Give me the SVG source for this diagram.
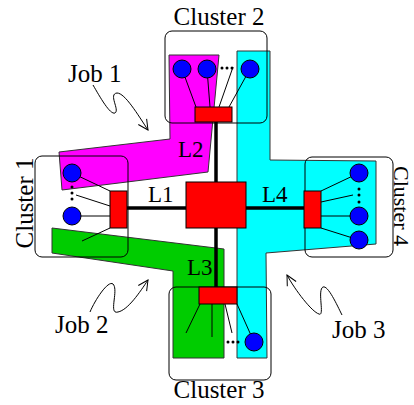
<svg xmlns="http://www.w3.org/2000/svg" width="414" height="405" viewBox="0 0 414 405">
<defs>
<style>
text{font-family:"Liberation Serif","Times New Roman",serif;fill:#000}
.lbl{font-size:25px}
.lk{font-size:23px}
.job{stroke:#333;stroke-width:1}
.clu{fill:none;stroke:#000;stroke-width:1}
.sw{fill:#ff0000;stroke:#000;stroke-width:1}
.host{fill:#0000ff;stroke:#000;stroke-width:1}
.thin{stroke:#000;stroke-width:1;fill:none}
.thick{stroke:#000;stroke-width:3.5;fill:none}
.dot{fill:#000}
.sq{fill:none;stroke:#000;stroke-width:1;marker-end:url(#arr)}
</style>
<marker id="arr" viewBox="0 0 12 12" refX="11" refY="6" markerWidth="12" markerHeight="12" markerUnits="userSpaceOnUse" orient="auto">
<path d="M1,1 L11,6 L1,11" fill="none" stroke="#000" stroke-width="1"/>
</marker>
</defs>
<rect width="414" height="405" fill="#fff"/>

<g id="job1-area"><polygon class="job" fill="#ff00ff" points="169,55 219,55 208,172 62,190 59,152 170,139"/></g>
<g id="job3-area"><polygon class="job" fill="#00ffff" points="237,51 270,51 270,160 376,161 376,244 266,253 267,358 237,358"/></g>
<g id="job2-area"><polygon class="job" fill="#00cc00" points="52,228 224,249 224,358 173,358 173,271 52,253"/></g>

<g id="connectors">
<line class="thick" x1="127" y1="208" x2="304" y2="208"/>
<line class="thick" x1="216" y1="122" x2="216" y2="287"/>
<line class="thin" x1="72" y1="173" x2="110" y2="191"/>
<line class="thin" x1="76" y1="195" x2="110" y2="206"/>
<line class="thin" x1="72" y1="216" x2="110" y2="216"/>
<line class="thin" x1="82" y1="241" x2="110" y2="228"/>
<line class="thin" x1="182" y1="69" x2="196" y2="107"/>
<line class="thin" x1="207" y1="69" x2="210" y2="107"/>
<line class="thin" x1="233" y1="67" x2="219" y2="107"/>
<line class="thin" x1="250" y1="69" x2="229" y2="107"/>
<line class="thin" x1="321" y1="191" x2="359" y2="173"/>
<line class="thin" x1="321" y1="202" x2="353" y2="195"/>
<line class="thin" x1="321" y1="216" x2="359" y2="216"/>
<line class="thin" x1="321" y1="228" x2="359" y2="240"/>
<line class="thin" x1="200" y1="304" x2="186" y2="333"/>
<line class="thin" x1="212" y1="304" x2="212" y2="337"/>
<line class="thin" x1="225" y1="304" x2="232" y2="333"/>
<line class="thin" x1="237" y1="304" x2="254" y2="342"/>
</g>

<g id="core">
<rect class="sw" x="186" y="182" width="60" height="46"/>
<text class="lk" x="148" y="202">L1</text>
<text class="lk" x="178" y="157">L2</text>
<text class="lk" x="187" y="275">L3</text>
<text class="lk" x="262" y="202">L4</text>
</g>

<g id="cluster1">
<rect class="clu" x="35" y="156" width="93" height="101" rx="7"/>
<rect class="sw" x="110" y="191" width="17" height="37"/>
<circle class="host" cx="72" cy="173" r="9"/>
<circle class="host" cx="72" cy="216" r="9"/>
<circle class="dot" cx="72" cy="187" r="1.5"/>
<circle class="dot" cx="72" cy="193" r="1.5"/>
<circle class="dot" cx="72" cy="199" r="1.5"/>
<text class="lbl" transform="translate(33,203) rotate(-90)" text-anchor="middle">Cluster 1</text>
</g>

<g id="cluster2">
<rect class="clu" x="165" y="31" width="102" height="92" rx="7"/>
<rect class="sw" x="195" y="107" width="37" height="15"/>
<circle class="host" cx="182" cy="69" r="9"/>
<circle class="host" cx="207" cy="69" r="9"/>
<circle class="host" cx="250" cy="69" r="9"/>
<circle class="dot" cx="222" cy="68" r="1.5"/>
<circle class="dot" cx="227" cy="68" r="1.5"/>
<circle class="dot" cx="232" cy="68" r="1.5"/>
<text class="lbl" x="219" y="25" text-anchor="middle">Cluster 2</text>
</g>

<g id="cluster3">
<rect class="clu" x="169" y="287" width="102" height="93" rx="7"/>
<rect class="sw" x="199" y="287" width="38" height="17"/>
<circle class="host" cx="254" cy="342" r="9"/>
<circle class="dot" cx="228" cy="342" r="1.5"/>
<circle class="dot" cx="233" cy="342" r="1.5"/>
<circle class="dot" cx="238" cy="342" r="1.5"/>
<text class="lbl" x="219" y="398" text-anchor="middle">Cluster 3</text>
</g>

<g id="cluster4">
<rect class="clu" x="305" y="157" width="88" height="100" rx="7"/>
<rect class="sw" x="304" y="191" width="17" height="37"/>
<circle class="host" cx="359" cy="173" r="9"/>
<circle class="host" cx="359" cy="216" r="9"/>
<circle class="host" cx="359" cy="240" r="9"/>
<circle class="dot" cx="359" cy="189" r="1.5"/>
<circle class="dot" cx="359" cy="195" r="1.5"/>
<circle class="dot" cx="359" cy="202" r="1.5"/>
<text transform="translate(394,206) rotate(90)" text-anchor="middle" font-size="22">Cluster 4</text>
</g>

<g id="job1">
<text class="lbl" x="68" y="82">Job 1</text>
<path class="sq" d="M93,85 C100,97 110,115 115,113 C120,110 108,94 117,93 C125,93 138,115 148,130"/>
</g>
<g id="job2">
<text class="lbl" x="55" y="333">Job 2</text>
<path class="sq" d="M90,312 C95,300 108,280 113,284 C119,290 108,315 118,312 C128,310 140,292 148,280"/>
</g>
<g id="job3">
<text class="lbl" x="332" y="338">Job 3</text>
<path class="sq" d="M342,315 C337,305 328,285 323,287 C317,290 325,317 319,314 C312,312 295,290 287,275"/>
</g>
</svg>
